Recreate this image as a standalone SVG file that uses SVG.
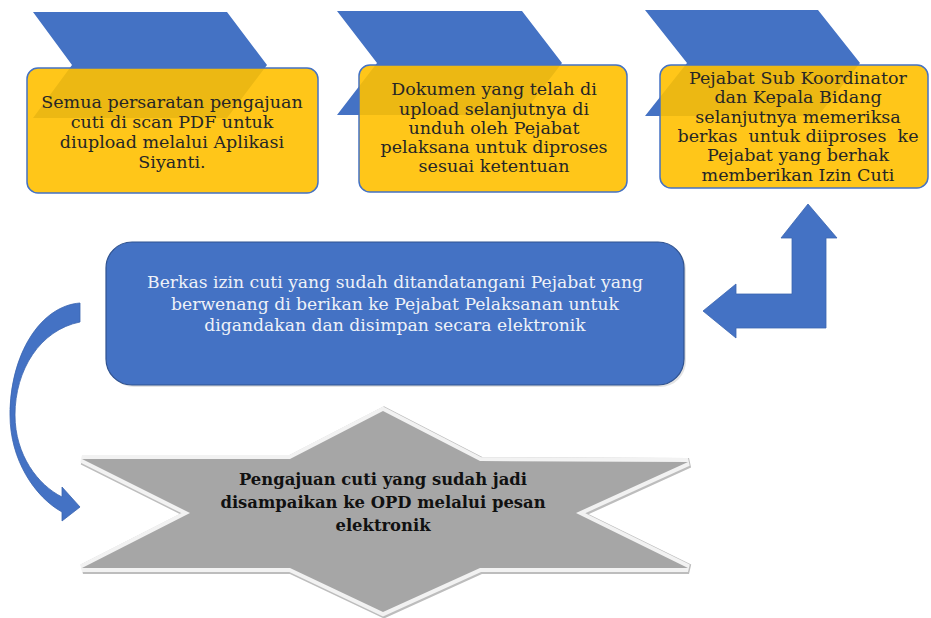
<svg xmlns="http://www.w3.org/2000/svg" width="931" height="618" viewBox="0 0 931 618">
<style>
.chev{fill:#4472C4}
.ybox{fill:#FFC000;fill-opacity:0.9;stroke:#4472C4;stroke-width:1.5}
.yt{font-family:"DejaVu Serif","Liberation Serif",serif;font-size:17.5px;fill:#262626;text-anchor:middle}
.bbox{fill:#4472C4;stroke:#2F528F;stroke-width:1.2}
.bt{font-family:"DejaVu Serif","Liberation Serif",serif;font-size:17.2px;fill:#EEF1F8;text-anchor:middle}
.st{font-family:"DejaVu Serif","Liberation Serif",serif;font-size:16.4px;font-weight:bold;fill:#111;text-anchor:middle}
.arr{fill:#4472C4;stroke:#3A64B0;stroke-width:0.8}
</style>
<rect width="931" height="618" fill="#FFFFFF"/>
<g id="step1">
<polygon class="chev" points="33,12 227,12 267,65 227,118 33,118 72,65"/>
<rect class="ybox" x="27" y="68" width="291" height="125" rx="11"/>
<text class="yt" x="172" y="108">Semua persaratan pengajuan</text>
<text class="yt" x="172" y="128">cuti di scan PDF untuk</text>
<text class="yt" x="172" y="148">diupload melalui Aplikasi</text>
<text class="yt" x="172" y="168">Siyanti.</text>
</g>
<g id="step2">
<polygon class="chev" points="337,11 522,11 562,63 522,115 337,115 377,63"/>
<rect class="ybox" x="359" y="65" width="268" height="127" rx="11"/>
<text class="yt" x="494" y="95">Dokumen yang telah di</text>
<text class="yt" x="494" y="114.5">upload selanjutnya di</text>
<text class="yt" x="494" y="134">unduh oleh Pejabat</text>
<text class="yt" x="494" y="153">pelaksana untuk diproses</text>
<text class="yt" x="494" y="172">sesuai ketentuan</text>
</g>
<g id="step3">
<polygon class="chev" points="645,10 818,10 860,63 818,116 645,116 687,63"/>
<rect class="ybox" x="660" y="65" width="268" height="123" rx="11"/>
<text class="yt" x="798" y="84">Pejabat Sub Koordinator</text>
<text class="yt" x="798" y="103.3">dan Kepala Bidang</text>
<text class="yt" x="798" y="122.6">selanjutnya memeriksa</text>
<text class="yt" x="798" y="141.9" style="white-space:pre">berkas  untuk diiproses  ke</text>
<text class="yt" x="798" y="161.2">Pejabat yang berhak</text>
<text class="yt" x="798" y="180.5">memberikan Izin Cuti</text>
</g>
<g id="step4">
<rect x="108" y="244" width="578" height="143" rx="26" fill="#D0D0D0" opacity="0.6"/>
<rect class="bbox" x="106" y="242" width="578" height="143" rx="26"/>
<text class="bt" x="395" y="288">Berkas izin cuti yang sudah ditandatangani Pejabat yang</text>
<text class="bt" x="395" y="310">berwenang di berikan ke Pejabat Pelaksanan untuk</text>
<text class="bt" x="395" y="331">digandakan dan disimpan secara elektronik</text>
</g>
<g id="step5">
<path d="M82,459 L290,459 L383,411 L480,461 L688,462 L576,513 L688,568 L480,568 L383,612 L290,568 L82,568 L190,513 Z" fill="none" stroke="#BDBDBD" stroke-width="10" stroke-linejoin="miter" transform="translate(1,1)"/>
<path d="M82,459 L290,459 L383,411 L480,461 L688,462 L576,513 L688,568 L480,568 L383,612 L290,568 L82,568 L190,513 Z" fill="none" stroke="#F2F2F2" stroke-width="8" stroke-linejoin="miter"/>
<path d="M82,459 L290,459 L383,411 L480,461 L688,462 L576,513 L688,568 L480,568 L383,612 L290,568 L82,568 L190,513 Z" fill="#A6A6A6"/>
<text class="st" x="383" y="485">Pengajuan cuti yang sudah jadi</text>
<text class="st" x="383" y="508">disampaikan ke OPD melalui pesan</text>
<text class="st" x="383" y="531">elektronik</text>
</g>
<g id="connectors">
<path class="arr" d="M808,204 L837,238 L826,238 L826,328 L736,328 L736,338 L703,311 L736,284 L736,294 L792,294 L792,238 L781,238 Z"/>
<path class="arr" d="M80,303 C40,306 10,355 10,415 C10,460 35,497 62,512 L62,521 L80,507 L62,487 L62,497 C38,485 15,455 15,415 C15,370 40,330 80,322 Z"/>
</g>
</svg>
